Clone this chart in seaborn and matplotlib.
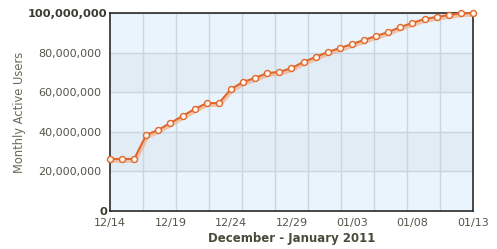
import numpy as np
import pandas as pd
import matplotlib
matplotlib.use("Agg")
import matplotlib.pyplot as plt
from matplotlib.ticker import FixedLocator, FuncFormatter
from matplotlib.transforms import ScaledTranslation
import seaborn as sns

# ---- data ----
day_index = list(range(31))
users_millions = [26.3, 26.3, 26.3, 38.4, 41.0, 44.5, 48.0, 51.5, 54.5, 54.5,
                  61.6, 65.2, 67.2, 69.7, 70.2, 72.2, 75.3, 77.8, 80.3, 82.3,
                  84.3, 86.4, 88.4, 90.4, 92.9, 95.0, 97.0, 98.0, 99.0, 99.8, 100.0]
x_tick_pos = [0, 5, 10, 15, 20, 25, 30]
x_tick_labels = ["12/14", "12/19", "12/24", "12/29", "01/03", "01/08", "01/13"]
y_ticks = [0, 20_000_000, 40_000_000, 60_000_000, 80_000_000, 100_000_000]

df = pd.DataFrame({"day": day_index,
                   "users": np.array(users_millions) * 1_000_000})

sns.set_theme(style="white")
plt.rcParams["font.family"] = ["DejaVu Sans"]

fig = plt.figure(figsize=(4.97, 2.49), dpi=100)
ax = fig.add_axes([0.2213, 0.1526, 0.7304, 0.7952])

ax.set_facecolor("#e9f4fc")
for lo in (20_000_000, 60_000_000):
    ax.axhspan(lo, lo + 20_000_000, color="#e2ecf4", zorder=0, lw=0)

ax.set_xlim(0, 30)
ax.set_ylim(0, 100_000_000)

ax.xaxis.set_minor_locator(FixedLocator(np.linspace(0, 30, 12)))
ax.grid(which="minor", axis="x", color="#c9d5e0", lw=1.0, zorder=1)
ax.grid(which="major", axis="y", color="#c9d5e0", lw=1.0, zorder=1)
ax.set_axisbelow(True)

line_col = "#e0682c"
# soft shadow line
sns.lineplot(data=df, x="day", y="users", ax=ax, color="#f3b08a", lw=3.2,
             alpha=0.7, zorder=4, clip_on=False)
sh = ax.lines[-1]
sh.set_transform(ax.transData + ScaledTranslation(0.8 / 100, -1.6 / 100,
                                                  fig.dpi_scale_trans))
# main line
sns.lineplot(data=df, x="day", y="users", ax=ax, color=line_col, lw=1.5,
             marker="o", markersize=4.3, markerfacecolor="#fff6ee",
             markeredgecolor=line_col, markeredgewidth=1.0, zorder=5,
             clip_on=False)

for s in ax.spines.values():
    s.set_color("#2a2a2a")
    s.set_linewidth(1.2)

ax.set_xticks(x_tick_pos)
ax.set_xticklabels(x_tick_labels)
ax.set_yticks(y_ticks)
ax.yaxis.set_major_formatter(FuncFormatter(lambda v, p: f"{int(v):,}"))
ax.tick_params(axis="both", which="both", length=0, labelsize=8.0,
               labelcolor="#555548")
ax.tick_params(axis="x", pad=5)
ax.tick_params(axis="y", pad=2)

fig.canvas.draw()
for lab in ax.get_yticklabels():
    if lab.get_text() in ("0", "100,000,000"):
        lab.set_fontweight("bold")
        lab.set_color("#3a3a30")
        lab.set_fontsize(8.2)
    else:
        lab.set_transform(lab.get_transform() +
                          ScaledTranslation(-6 / 100, 0, fig.dpi_scale_trans))

ax.set_xlabel("December - January 2011", fontsize=8.5, fontweight="bold",
              color="#4a4a3a", labelpad=3)
ax.set_ylabel("Monthly Active Users", fontsize=8.3, color="#6a6a5a")
ax.yaxis.set_label_coords(-0.232, 0.5)

fig.savefig("out.png", dpi=100)
